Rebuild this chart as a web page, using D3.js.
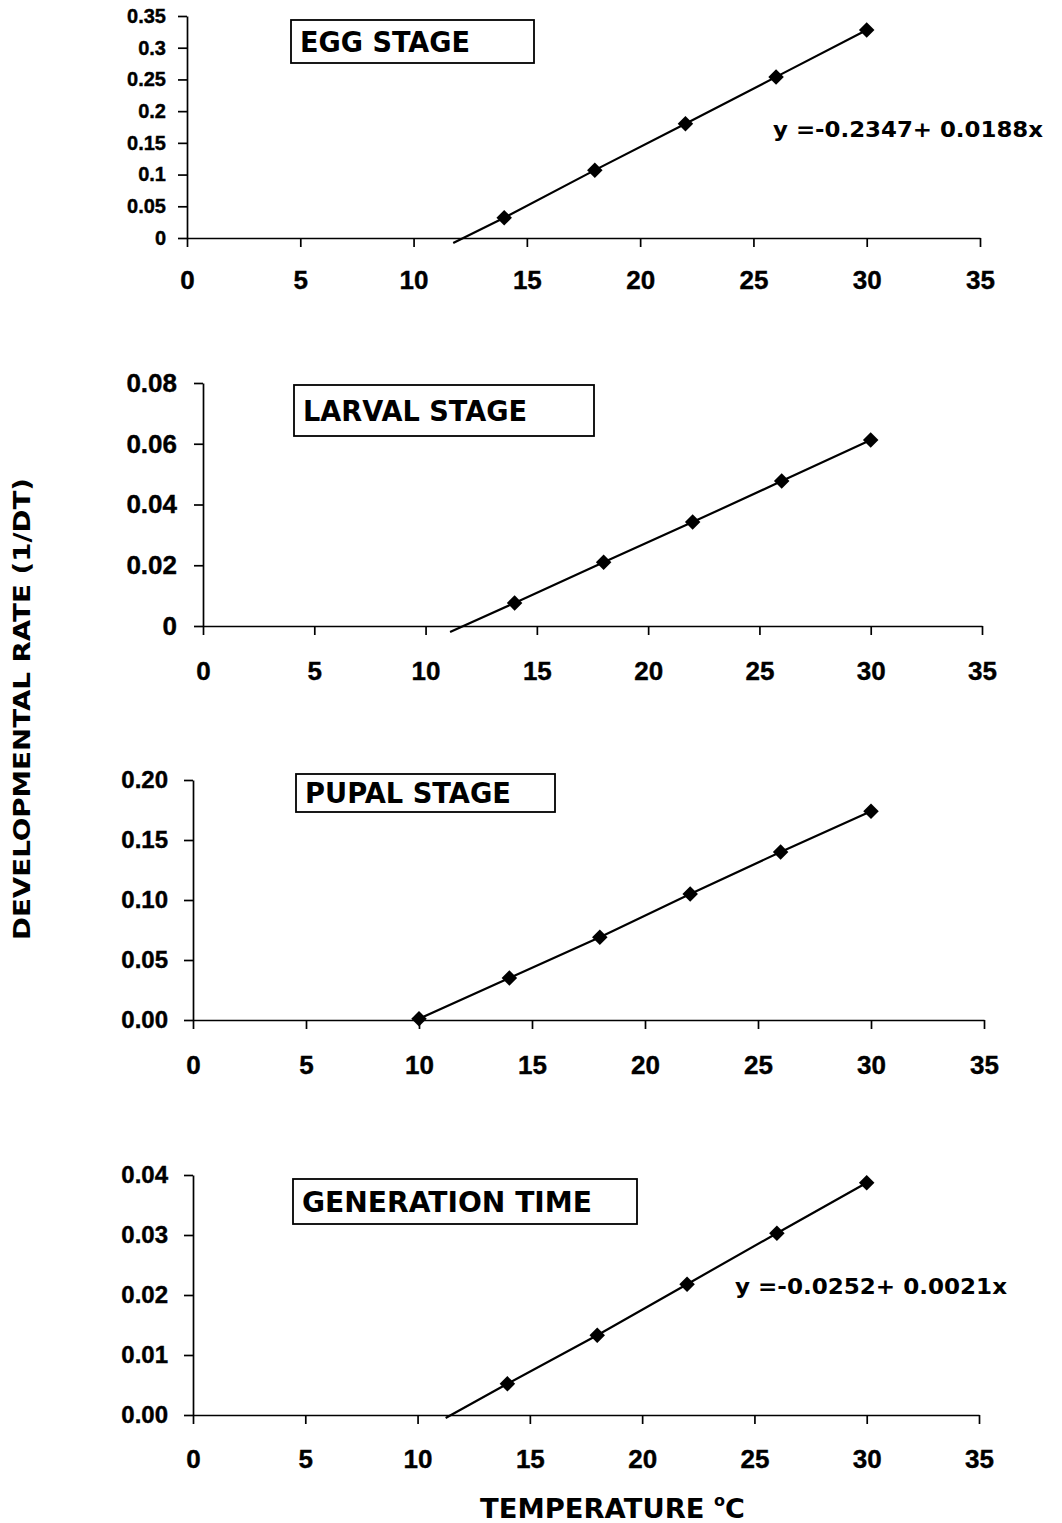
<!DOCTYPE html>
<html>
<head>
<meta charset="utf-8">
<script src="https://cdn.jsdelivr.net/npm/d3@7"></script>
<style>
  body { margin: 0; background: #fff; }
  svg { display: block; }
</style>
</head>
<body>
<div id="chart"></div>
<script>
// ---- data ----
const temps = [14, 18, 22, 26, 30];
const pupalTemps = [10, 14, 18, 22, 26, 30];

const eggRate = [0.032, 0.107, 0.180, 0.254, 0.328];
const larvalRate = [0.0076, 0.021, 0.0342, 0.0477, 0.0612];
const pupalRate = [0.001, 0.035, 0.069, 0.105, 0.140, 0.174];
const genRate = [0.0052, 0.0133, 0.0218, 0.0303, 0.0387];

// where the fitted line starts (below the x axis)
const eggTrendStart = [11.75, -0.008];
const larvalTrendStart = [11.1, -0.002];
const genTrendStart = [11.25, -0.0005];

const xTicks = [0, 5, 10, 15, 20, 25, 30, 35];

const eggYTicks = [0, 0.05, 0.1, 0.15, 0.2, 0.25, 0.3, 0.35];
const eggYLabels = ["0", "0.05", "0.1", "0.15", "0.2", "0.25", "0.3", "0.35"];
const larvalYTicks = [0, 0.02, 0.04, 0.06, 0.08];
const larvalYLabels = ["0", "0.02", "0.04", "0.06", "0.08"];
const pupalYTicks = [0, 0.05, 0.10, 0.15, 0.20];
const pupalYLabels = ["0.00", "0.05", "0.10", "0.15", "0.20"];
const genYTicks = [0, 0.01, 0.02, 0.03, 0.04];
const genYLabels = ["0.00", "0.01", "0.02", "0.03", "0.04"];

const stageNames = ["EGG STAGE", "LARVAL STAGE", "PUPAL STAGE", "GENERATION TIME"];
const eggEquation = "y =-0.2347+ 0.0188x";
const genEquation = "y =-0.0252+ 0.0021x";

const Y_TITLE = "DEVELOPMENTAL RATE (1/DT)";
const X_TITLE = "TEMPERATURE";

// ---- layout ----
const WIDTH = 1062, HEIGHT = 1523;
const TICK_FONT = "'Liberation Sans', Arial, sans-serif";
const LABEL_FONT = "'DejaVu Sans', Verdana, sans-serif";

const svg = d3.select("#chart").append("svg")
  .attr("width", WIDTH)
  .attr("height", HEIGHT);

function drawPanel(p) {
  const x = d3.scaleLinear().domain([0, 35]).range([p.left, p.right]);
  const y = d3.scaleLinear().domain([0, p.yMax]).range([p.bottom, p.top]);
  const g = svg.append("g");

  const xAxis = g.append("g")
    .attr("transform", `translate(0,${p.bottom})`)
    .call(d3.axisBottom(x).tickValues(xTicks).tickSize(9).tickSizeOuter(0)
      .tickPadding(p.xPad).tickFormat(d3.format("d")));

  const yAxis = g.append("g")
    .attr("transform", `translate(${p.left},0)`)
    .call(d3.axisLeft(y).tickValues(p.yTicks).tickSize(9).tickSizeOuter(0)
      .tickPadding(p.yPad).tickFormat((d, i) => p.yLabels[i]));

  [xAxis, yAxis].forEach(a => {
    a.select(".domain").attr("stroke", "#000").attr("stroke-width", 1.7);
    a.selectAll(".tick line").attr("stroke", "#000").attr("stroke-width", 1.7);
    a.selectAll("text")
      .attr("fill", "#000")
      .attr("stroke", "#000")
      .attr("stroke-width", 0.4)
      .style("font-family", TICK_FONT)
      .style("font-weight", "bold");
  });
  xAxis.selectAll("text").style("font-size", p.xFont + "px");
  yAxis.selectAll("text").style("font-size", p.yFont + "px");

  // fitted line through the points
  const pts = p.xs.map((t, i) => [t, p.ys[i]]);
  const linePts = p.trendStart ? [p.trendStart].concat(pts) : pts;
  g.append("path")
    .datum(linePts)
    .attr("fill", "none")
    .attr("stroke", "#000")
    .attr("stroke-width", 2.2)
    .attr("d", d3.line().x(d => x(d[0])).y(d => y(d[1])));

  g.selectAll(".pt")
    .data(pts)
    .enter().append("path")
    .attr("class", "pt")
    .attr("d", d3.symbol(d3.symbolSquare, 120))
    .attr("transform", d => `translate(${x(d[0])},${y(d[1])}) rotate(45)`)
    .attr("fill", "#000");

  // stage label box
  g.append("rect")
    .attr("x", p.box[0]).attr("y", p.box[1])
    .attr("width", p.box[2]).attr("height", p.box[3])
    .attr("fill", "#fff")
    .attr("stroke", "#000")
    .attr("stroke-width", 1.8);
  g.append("text")
    .attr("x", p.box[0] + 9)
    .attr("y", p.box[1] + p.box[3] / 2)
    .attr("dy", "0.36em")
    .attr("textLength", p.nameWidth)
    .attr("lengthAdjust", "spacingAndGlyphs")
    .style("font-family", LABEL_FONT)
    .style("font-weight", "bold")
    .style("font-size", "28px")
    .text(p.name);

  if (p.equation) {
    g.append("text")
      .attr("x", p.eqPos[0])
      .attr("y", p.eqPos[1])
      .attr("textLength", p.eqWidth)
      .attr("lengthAdjust", "spacingAndGlyphs")
      .style("font-family", LABEL_FONT)
      .style("font-weight", "bold")
      .style("font-size", "21px")
      .text(p.equation);
  }
}

const panels = [
  { left: 187, right: 980, top: 16, bottom: 238, yMax: 0.35,
    yTicks: eggYTicks, yLabels: eggYLabels, xs: temps, ys: eggRate,
    trendStart: eggTrendStart, xPad: 24, yPad: 12, xFont: 26, yFont: 20,
    box: [291, 20, 243, 43], name: stageNames[0], nameWidth: 170,
    equation: eggEquation, eqPos: [773, 137], eqWidth: 270 },
  { left: 203, right: 982, top: 383, bottom: 626, yMax: 0.08,
    yTicks: larvalYTicks, yLabels: larvalYLabels, xs: temps, ys: larvalRate,
    trendStart: larvalTrendStart, xPad: 27, yPad: 17, xFont: 26, yFont: 26,
    box: [294, 385, 300, 51], name: stageNames[1], nameWidth: 224 },
  { left: 193, right: 984, top: 780, bottom: 1020, yMax: 0.20,
    yTicks: pupalYTicks, yLabels: pupalYLabels, xs: pupalTemps, ys: pupalRate,
    trendStart: null, xPad: 27, yPad: 16, xFont: 26, yFont: 24,
    box: [296, 774, 259, 38], name: stageNames[2], nameWidth: 206 },
  { left: 193, right: 979, top: 1175, bottom: 1415, yMax: 0.04,
    yTicks: genYTicks, yLabels: genYLabels, xs: temps, ys: genRate,
    trendStart: genTrendStart, xPad: 26, yPad: 16, xFont: 26, yFont: 24,
    box: [293, 1179, 344, 45], name: stageNames[3], nameWidth: 290,
    equation: genEquation, eqPos: [735, 1294], eqWidth: 272 }
];

panels.forEach(drawPanel);

// axis titles
svg.append("text")
  .attr("transform", "translate(30,709) rotate(-90)")
  .attr("text-anchor", "middle")
  .attr("textLength", 462)
  .attr("lengthAdjust", "spacingAndGlyphs")
  .style("font-family", LABEL_FONT)
  .style("font-weight", "bold")
  .style("font-size", "23px")
  .text(Y_TITLE);

const xt = svg.append("text")
  .attr("x", 480)
  .attr("y", 1518)
  .style("font-family", LABEL_FONT)
  .style("font-weight", "bold")
  .style("font-size", "27px");
xt.append("tspan").attr("textLength", 234).attr("lengthAdjust", "spacingAndGlyphs").text(X_TITLE + " ");
xt.append("tspan").attr("dy", -12).style("font-size", "16px").text("o");
xt.append("tspan").attr("dy", 12).text("C");
</script>
</body>
</html>
